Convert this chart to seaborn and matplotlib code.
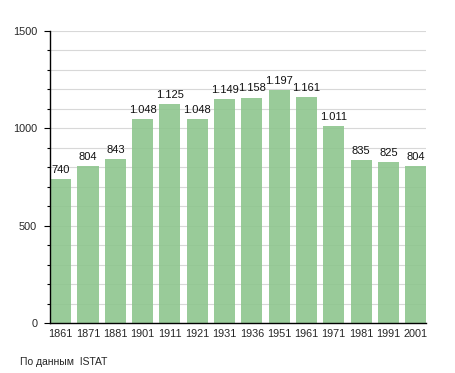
import matplotlib
matplotlib.use("Agg")
import matplotlib.pyplot as plt
import seaborn as sns
import pandas as pd
from matplotlib.ticker import MultipleLocator

years = ["1861", "1871", "1881", "1901", "1911", "1921", "1931",
         "1936", "1951", "1961", "1971", "1981", "1991", "2001"]
population = [740, 804, 843, 1048, 1125, 1048, 1149,
              1158, 1197, 1161, 1011, 835, 825, 804]
source_note = "По данным  ISTAT"

df = pd.DataFrame({"year": years, "pop": population})

sns.set_theme(style="white")
plt.rcParams["font.family"] = ["Liberation Sans", "DejaVu Sans"]

fig = plt.figure(figsize=(4.55, 3.73), dpi=100)
ax = fig.add_axes([0.110, 0.134, 0.827, 0.783])

ax.grid(axis="y", which="both", color="#d8d8d8", linewidth=0.8, zorder=0)
ax.set_axisbelow(True)

sns.barplot(data=df, x="year", y="pop", color="#8ec68e", saturation=1,
            width=0.77, alpha=0.9, linewidth=0, ax=ax)

def fmt(v):
    return f"{v:,}".replace(",", ".")

for i, v in enumerate(population):
    ax.text(i, v + 22, fmt(v), ha="center", va="bottom", fontsize=8, color="#111111")

ax.set_ylim(0, 1500)
ax.set_xlim(-0.39, len(years) - 0.61)
ax.yaxis.set_major_locator(MultipleLocator(500))
ax.yaxis.set_minor_locator(MultipleLocator(100))

for s in ["top", "right"]:
    ax.spines[s].set_visible(False)
for s in ["left", "bottom"]:
    ax.spines[s].set_color("black")
    ax.spines[s].set_linewidth(1.0)

ax.tick_params(axis="y", which="major", left=True, length=4.3, width=0.8,
               labelsize=7.8, pad=5, color="black")
ax.tick_params(axis="y", which="minor", left=True, length=2, width=0.8, color="black")
ax.tick_params(axis="x", bottom=False, labelsize=7.8, pad=-1.5)
ax.set_xlabel("")
ax.set_ylabel("")

fig.text(0.044, 0.016, source_note, fontsize=7.5, ha="left", va="bottom")

plt.savefig("out.png", dpi=100)
plt.close()
